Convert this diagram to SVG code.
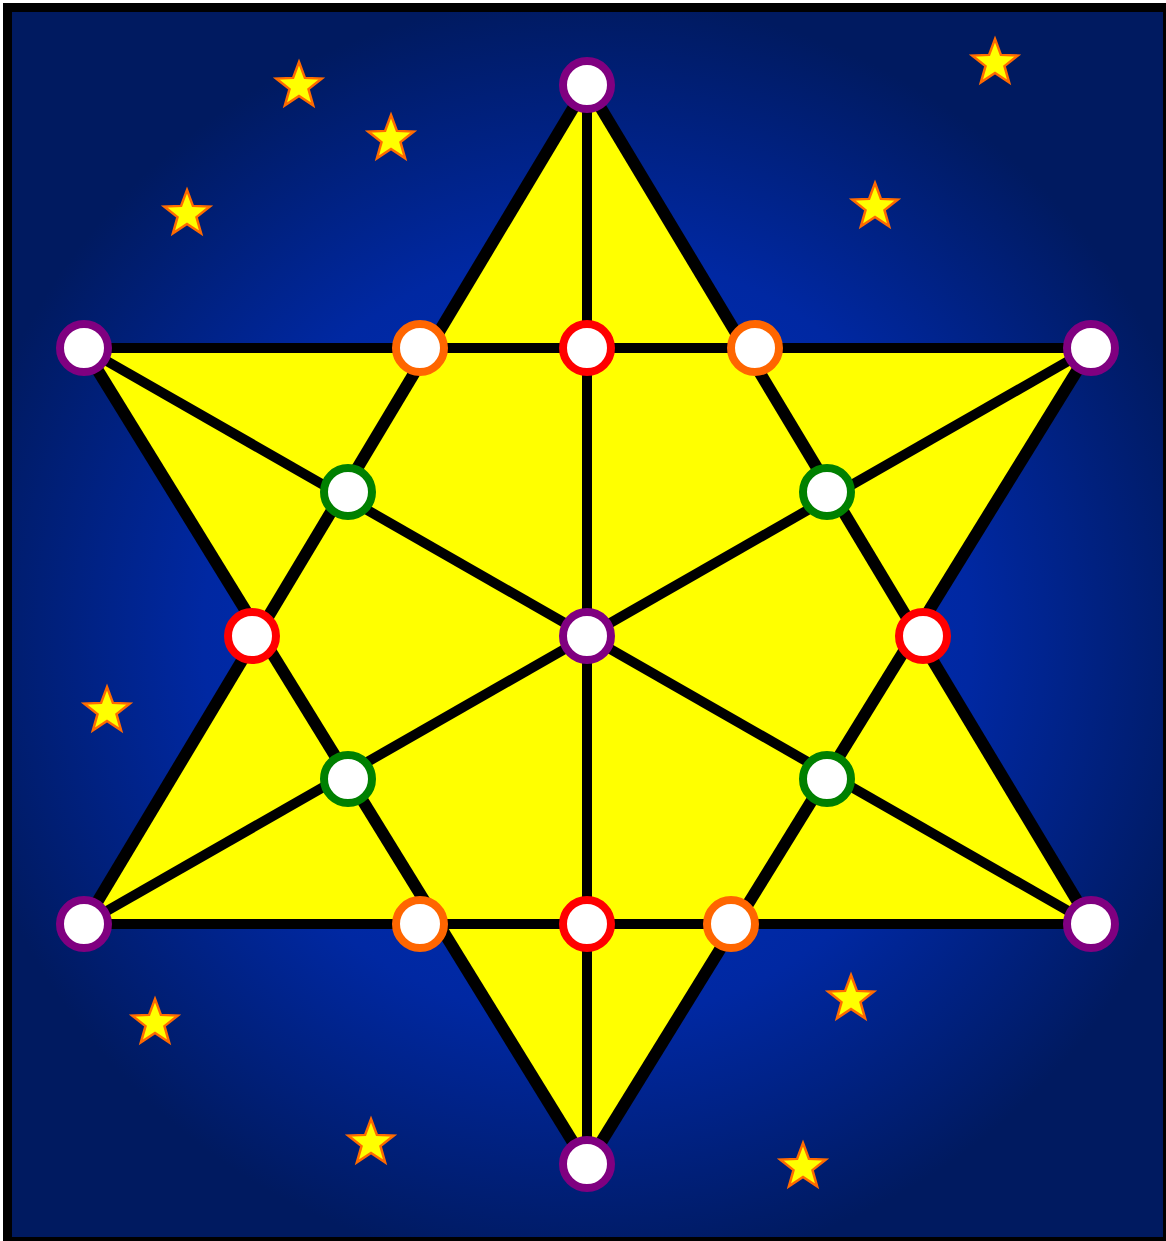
<svg xmlns="http://www.w3.org/2000/svg" width="1166" height="1241" viewBox="0 0 1166 1241">
<defs>
<radialGradient id="bg" gradientUnits="userSpaceOnUse" cx="587" cy="636" r="640">
<stop offset="0" stop-color="#0033c4"/>
<stop offset="0.6" stop-color="#0028a2"/>
<stop offset="1" stop-color="#001a60"/>
</radialGradient>
<path id="star" d="M0,-24 L5.9,-8.1 L22.8,-7.4 L9.5,3.1 L14.1,19.4 L0,10 L-14.1,19.4 L-9.5,3.1 L-22.8,-7.4 L-5.9,-8.1 Z"/>
</defs>
<style>
.st{fill:#ffff00;stroke:#ff6a00;stroke-width:2.5;stroke-linejoin:miter}
.ln{stroke:#000;stroke-width:10;fill:none;stroke-linecap:butt}
.ed{stroke:#000;stroke-width:12;fill:none;stroke-linecap:butt}
.nd{fill:#fff;stroke-width:8}
.pu{stroke:#800080}
.or{stroke:#ff6600}
.rd{stroke:#ff0000}
.gr{stroke:#008000}
</style>
<rect x="0" y="0" width="1166" height="1241" fill="#fff"/>
<rect x="7.5" y="7.5" width="1160" height="1234" fill="url(#bg)" stroke="#000" stroke-width="9"/>
<g id="stars">
<use href="#star" class="st" transform="translate(299,86)"/>
<use href="#star" class="st" transform="translate(391,139)"/>
<use href="#star" class="st" transform="translate(187,214)"/>
<use href="#star" class="st" transform="translate(995,63)"/>
<use href="#star" class="st" transform="translate(875,207)"/>
<use href="#star" class="st" transform="translate(107,711)"/>
<use href="#star" class="st" transform="translate(155,1023)"/>
<use href="#star" class="st" transform="translate(851,999)"/>
<use href="#star" class="st" transform="translate(371,1143)"/>
<use href="#star" class="st" transform="translate(803,1167)"/>
</g>
<g id="fill">
<polygon points="587,85 84,924 1091,924" fill="#ffff00"/>
<polygon points="84,348 1091,348 587,1165" fill="#ffff00"/>
</g>
<g id="connectors">
<line class="ed" x1="587" y1="85" x2="84" y2="924"/>
<line class="ed" x1="587" y1="85" x2="1091" y2="924"/>
<line class="ed" x1="84" y1="348" x2="587" y2="1165"/>
<line class="ed" x1="1091" y1="348" x2="587" y2="1165"/>
<line class="ln" x1="84" y1="348" x2="1091" y2="348"/>
<line class="ln" x1="84" y1="924" x2="1091" y2="924"/>
<line class="ln" x1="587" y1="85" x2="587" y2="1165"/>
<line class="ln" x1="84" y1="348" x2="1091" y2="924"/>
<line class="ln" x1="1091" y1="348" x2="84" y2="924"/>
</g>
<g id="n-top"><circle class="nd pu" cx="587" cy="85" r="24"/></g>
<g id="n-left-top"><circle class="nd pu" cx="84" cy="348" r="24"/></g>
<g id="n-right-top"><circle class="nd pu" cx="1091" cy="348" r="24"/></g>
<g id="n-left-bottom"><circle class="nd pu" cx="84" cy="924" r="24"/></g>
<g id="n-right-bottom"><circle class="nd pu" cx="1091" cy="924" r="24"/></g>
<g id="n-center"><circle class="nd pu" cx="587" cy="636" r="24"/></g>
<g id="n-bottom"><circle class="nd pu" cx="587" cy="1164" r="24"/></g>
<g id="o1"><circle class="nd or" cx="420" cy="348" r="24"/></g>
<g id="o2"><circle class="nd or" cx="755" cy="348" r="24"/></g>
<g id="o3"><circle class="nd or" cx="420" cy="924" r="24"/></g>
<g id="o4"><circle class="nd or" cx="731" cy="924" r="24"/></g>
<g id="r1"><circle class="nd rd" cx="587" cy="348" r="24"/></g>
<g id="r2"><circle class="nd rd" cx="252" cy="636" r="24"/></g>
<g id="r3"><circle class="nd rd" cx="923" cy="636" r="24"/></g>
<g id="r4"><circle class="nd rd" cx="587" cy="924" r="24"/></g>
<g id="g1"><circle class="nd gr" cx="348" cy="492" r="24"/></g>
<g id="g2"><circle class="nd gr" cx="827" cy="492" r="24"/></g>
<g id="g3"><circle class="nd gr" cx="348" cy="779" r="24"/></g>
<g id="g4"><circle class="nd gr" cx="827" cy="779" r="24"/></g>
</svg>
